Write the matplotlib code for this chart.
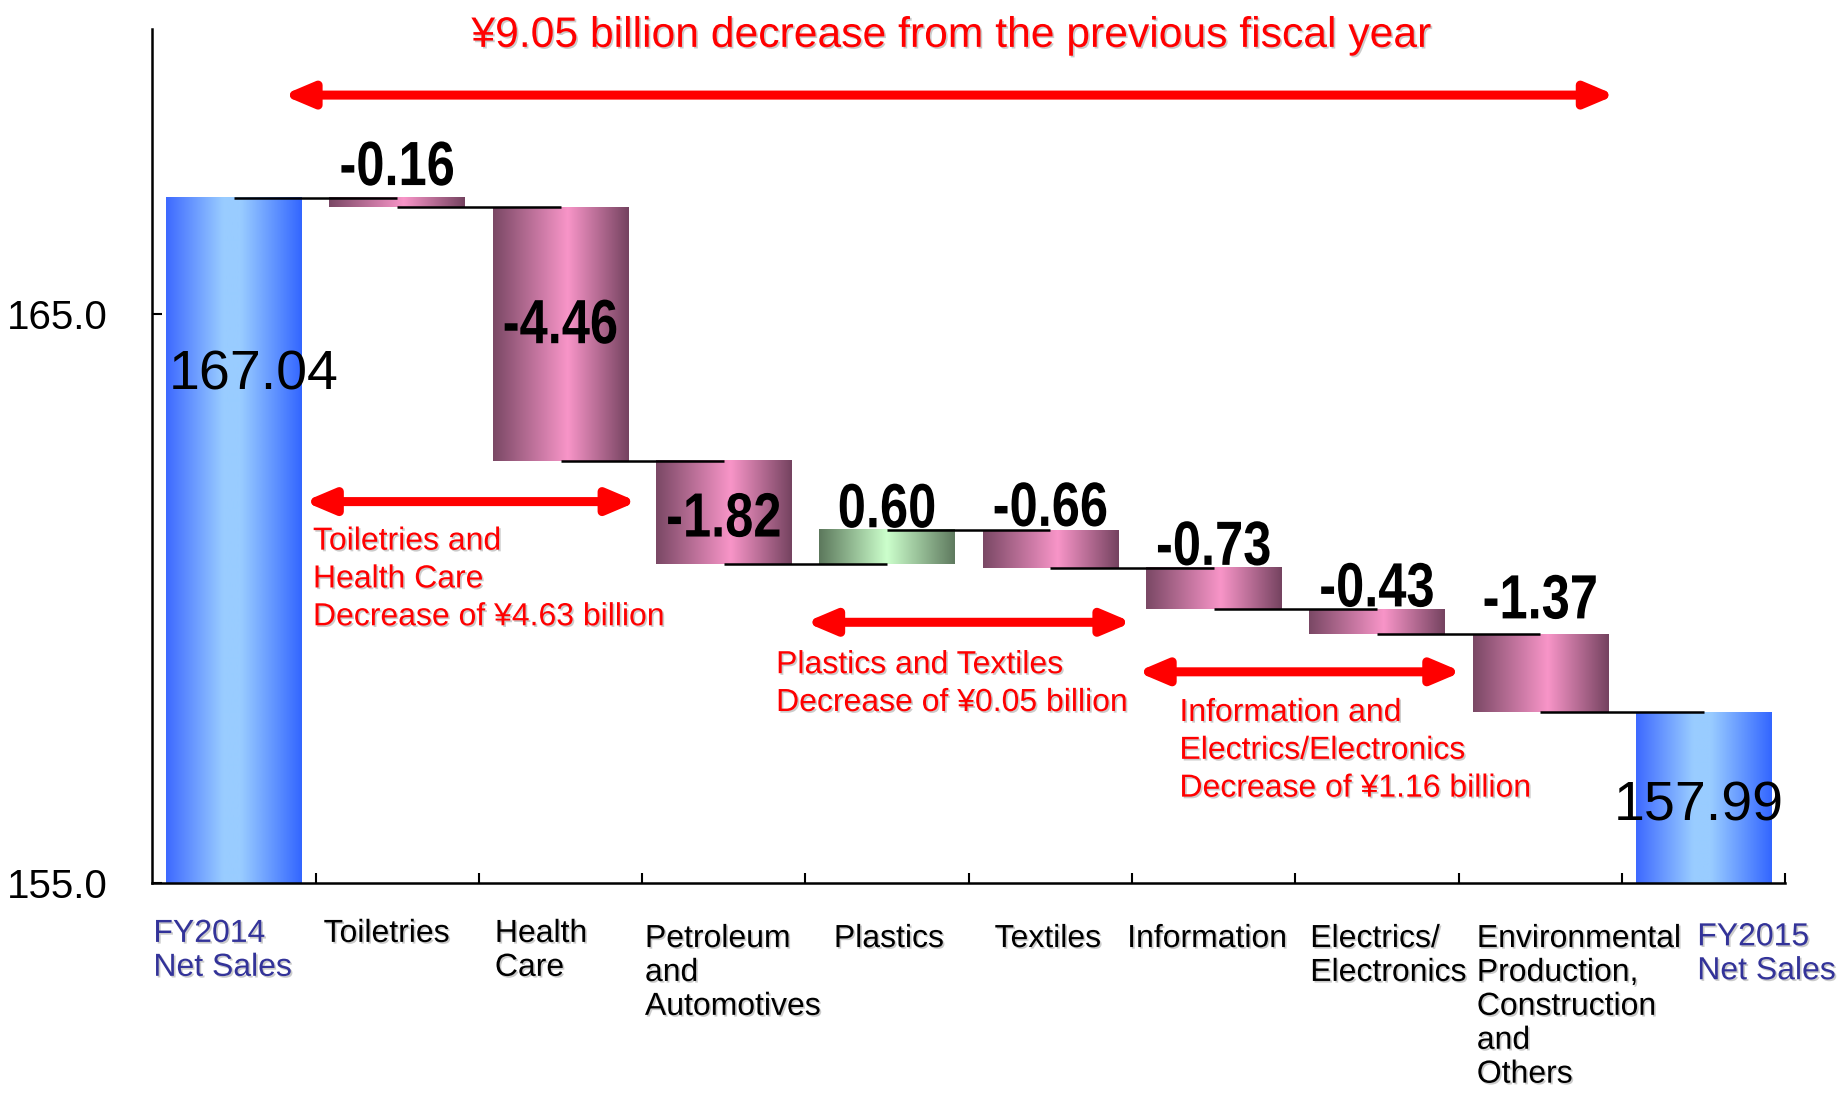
import numpy as np
import matplotlib
matplotlib.use("Agg")
import matplotlib.pyplot as plt
from matplotlib.colors import LinearSegmentedColormap
from matplotlib.transforms import Affine2D
from matplotlib import patheffects

# net sales bridge, FY2014 -> FY2015 (billion yen)
categories = ["FY2014\nNet Sales", "Toiletries", "Health\nCare",
              "Petroleum\nand\nAutomotives", "Plastics", "Textiles",
              "Information", "Electrics/\nElectronics",
              "Environmental\nProduction,\nConstruction\nand\nOthers",
              "FY2015\nNet Sales"]
start_value = 167.04
end_value = 157.99
changes = [-0.16, -4.46, -1.82, 0.60, -0.66, -0.73, -0.43, -1.37]
change_labels = ["-0.16", "-4.46", "-1.82", "0.60", "-0.66", "-0.73", "-0.43", "-1.37"]
y_ticks = [155.0, 165.0]

# layout bits for the category text (offset of left edge from category centre)
label_dx = [-0.493, -0.451, -0.402, -0.483, -0.326, -0.342, -0.530, -0.409, -0.389, -0.039]
label_top = [-0.042, -0.042, -0.042, -0.048, -0.048, -0.048, -0.048, -0.048, -0.048, -0.046]
# change labels: inside the bar (centred on it) or above it (baseline offset in points)
label_inside = [False, True, True, False, False, False, False, False]
label_pad = [9, 5, -5.5, 2, 3, 2, 2, 11]

plt.rcParams['font.family'] = ['Liberation Sans', 'DejaVu Sans']


class Condensed(patheffects.AbstractPathEffect):
    """Squeeze glyphs horizontally about the middle of the line."""

    def __init__(self, sx=0.8):
        super().__init__()
        self.sx = sx

    def draw_path(self, renderer, gc, tpath, affine, rgbFace=None):
        ext = tpath.get_extents()
        cx = (ext.x0 + ext.x1) / 2
        squeeze = Affine2D().translate(-cx, 0).scale(self.sx, 1).translate(cx, 0)
        renderer.draw_path(gc, tpath, squeeze + affine, rgbFace)


blue_cm = LinearSegmentedColormap.from_list(
    "blue", [(0, "#3D69FF"), (0.42, "#99CCFF"), (0.55, "#99CCFF"), (1, "#3366FF")])
pink_cm = LinearSegmentedColormap.from_list(
    "pink", [(0, "#7A4865"), (0.55, "#F895C8"), (1, "#754360")])
green_cm = LinearSegmentedColormap.from_list(
    "green", [(0, "#5C785C"), (0.5, "#CCFFCC"), (1, "#5F7A5F")])

shadow = [patheffects.withSimplePatchShadow(offset=(1.2, -1.2), shadow_rgbFace='0.55', alpha=0.45)]
narrow = [Condensed(0.81)]

fig = plt.figure(figsize=(18.39, 10.96), dpi=100)
ax = fig.add_axes([0.0828, 0.1943, 0.888, 0.7792])

bar_w = 0.83
grad = np.linspace(0, 1, 256).reshape(1, -1)


def gradient_bar(x, y0, y1, cmap):
    lo, hi = min(y0, y1), max(y0, y1)
    ax.imshow(grad, cmap=cmap, aspect='auto', interpolation='bilinear',
              extent=(x - bar_w / 2, x + bar_w / 2, lo, hi), zorder=2)


# running totals
levels = [start_value]
for c in changes:
    levels.append(levels[-1] + c)

n = len(categories)
gradient_bar(0, 155.0, start_value, blue_cm)
for i, c in enumerate(changes):
    cmap = green_cm if c > 0 else pink_cm
    gradient_bar(i + 1, levels[i], levels[i + 1], cmap)
gradient_bar(n - 1, 155.0, end_value, blue_cm)

# connectors from centre to centre
for i in range(n - 1):
    lvl = levels[i]
    ax.plot([i, i + 1], [lvl, lvl], color='black', lw=1.8, zorder=3,
            solid_capstyle='butt')

# value labels on the change bars
for i, c in enumerate(changes):
    x = i + 1
    if label_inside[i]:
        anchor, va = (levels[i] + levels[i + 1]) / 2, 'center'
    else:
        anchor, va = max(levels[i], levels[i + 1]), 'baseline'
    ax.annotate(change_labels[i], (x, anchor), xytext=(0, label_pad[i]),
                textcoords='offset points', ha='center', va=va,
                fontsize=45, fontweight='bold', path_effects=narrow, zorder=4)

ax.text(0.12, 163.92, f"{start_value:.2f}", ha='center', va='center', fontsize=40, zorder=4)
ax.text(n - 1 - 0.03, 156.34, f"{end_value:.2f}", ha='center', va='center', fontsize=40, zorder=4)

# red range arrows and notes
arrow_kw = dict(arrowstyle='<|-|>,head_length=0.85,head_width=0.36', color='#FF0000',
                lw=6.5, mutation_scale=20, shrinkA=0, shrinkB=0)
ax.annotate('', xy=(0.30, 168.84), xytext=(8.46, 168.84), arrowprops=arrow_kw, zorder=5)
ax.annotate('', xy=(0.43, 161.70), xytext=(2.47, 161.70), arrowprops=arrow_kw, zorder=5)
ax.annotate('', xy=(3.50, 159.58), xytext=(5.50, 159.58), arrowprops=arrow_kw, zorder=5)
ax.annotate('', xy=(5.53, 158.71), xytext=(7.52, 158.71), arrowprops=arrow_kw, zorder=5)

red_kw = dict(color='#FF0000', fontsize=23, ha='left', va='top', linespacing=1.34,
              path_effects=shadow, zorder=5)
ax.text(4.39, 169.88, "¥9.05 billion decrease from the previous fiscal year",
        color='#FF0000', fontsize=30.7, ha='center', va='center', path_effects=shadow, zorder=5)
ax.text(0.484, 161.26, "Toiletries and\nHealth Care\nDecrease of ¥4.63 billion", **red_kw)
ax.text(3.32, 159.09, "Plastics and Textiles\nDecrease of ¥0.05 billion", **red_kw)
ax.text(5.79, 158.25, "Information and\nElectrics/Electronics\nDecrease of ¥1.16 billion", **red_kw)

# axes styling
ax.set_xlim(-0.5, n - 0.5)
ax.set_ylim(155.0, 170.0)
for s in ('top', 'right'):
    ax.spines[s].set_visible(False)
for s in ('left', 'bottom'):
    ax.spines[s].set_linewidth(1.8)
ax.set_yticks(y_ticks)
ax.set_yticklabels([f"{v:.1f}" for v in y_ticks])
ax.tick_params(axis='y', direction='in', length=7, width=1.5, labelsize=29, pad=32)
ax.set_xticks(np.arange(0.5, n, 1.0))
ax.set_xticklabels([])
ax.tick_params(axis='x', direction='in', length=7, width=1.5)

xt = ax.get_xaxis_transform()
for i, lab in enumerate(categories):
    color = '#333399' if lab.startswith('FY') else 'black'
    ax.text(i + label_dx[i], label_top[i], lab, transform=xt, ha='left', va='top',
            fontsize=23, color=color, linespacing=1.17, path_effects=shadow, clip_on=False)

fig.savefig("out.png", dpi=100)
